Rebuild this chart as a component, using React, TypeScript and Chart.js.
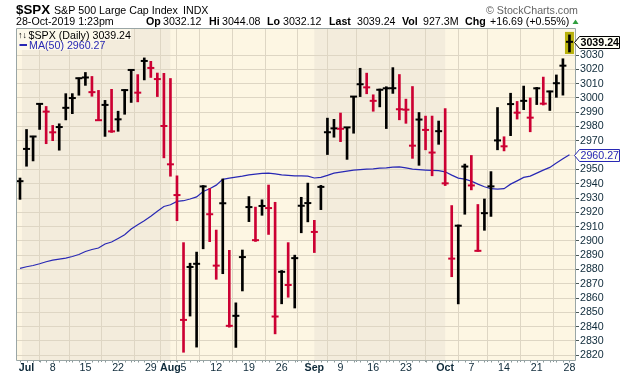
import React, { useEffect, useRef } from 'react';
import { Chart, registerables } from 'chart.js';

Chart.register(...registerables);

// ---------- data ----------
const dates = [
  '2019-06-28',
  '2019-07-01', '2019-07-02', '2019-07-03', '2019-07-05', '2019-07-08', '2019-07-09', '2019-07-10', '2019-07-11', '2019-07-12',
  '2019-07-15', '2019-07-16', '2019-07-17', '2019-07-18', '2019-07-19', '2019-07-22', '2019-07-23', '2019-07-24', '2019-07-25',
  '2019-07-26', '2019-07-29', '2019-07-30', '2019-07-31',
  '2019-08-01', '2019-08-02', '2019-08-05', '2019-08-06', '2019-08-07', '2019-08-08', '2019-08-09', '2019-08-12', '2019-08-13',
  '2019-08-14', '2019-08-15', '2019-08-16', '2019-08-19', '2019-08-20', '2019-08-21', '2019-08-22', '2019-08-23', '2019-08-26',
  '2019-08-27', '2019-08-28', '2019-08-29', '2019-08-30',
  '2019-09-03', '2019-09-04', '2019-09-05', '2019-09-06', '2019-09-09', '2019-09-10', '2019-09-11', '2019-09-12', '2019-09-13',
  '2019-09-16', '2019-09-17', '2019-09-18', '2019-09-19', '2019-09-20', '2019-09-23', '2019-09-24', '2019-09-25', '2019-09-26',
  '2019-09-27', '2019-09-30',
  '2019-10-01', '2019-10-02', '2019-10-03', '2019-10-04', '2019-10-07', '2019-10-08', '2019-10-09', '2019-10-10', '2019-10-11',
  '2019-10-14', '2019-10-15', '2019-10-16', '2019-10-17', '2019-10-18', '2019-10-21', '2019-10-22', '2019-10-23', '2019-10-24',
  '2019-10-25', '2019-10-28',
];

const highs = [
  2943.98, 2977.93, 2973.21, 2995.84, 2994.03, 2980.76, 2981.90, 3002.98, 3003.00, 3013.92,
  3017.80, 3015.02, 3005.26, 2998.28, 3006.02, 2990.71, 3005.90, 3019.59, 3016.31, 3027.98,
  3025.61, 3017.40, 3017.19, 3013.59, 2945.50, 2898.79, 2884.40, 2892.17, 2938.72, 2936.66,
  2907.58, 2943.31, 2893.42, 2856.67, 2893.63, 2931.00, 2923.63, 2928.73, 2939.08, 2927.01,
  2879.27, 2898.79, 2890.03, 2930.50, 2940.43, 2914.39, 2938.84, 2985.86, 2985.03, 2989.43,
  2979.39, 3000.93, 3020.74, 3017.33, 3002.19, 3006.21, 3007.83, 3021.19, 3016.37, 2999.15,
  3007.98, 2989.82, 2987.28, 2987.31, 2983.83, 2992.53, 2924.72, 2911.13, 2953.74, 2959.75,
  2925.47, 2929.32, 2948.46, 2993.28, 2972.84, 3003.28, 2997.54, 3008.29, 3000.00, 3007.33,
  3014.57, 3004.78, 3016.07, 3027.39, 3044.08,
];

const lows = [
  2929.05, 2952.22, 2955.92, 2977.96, 2967.97, 2970.09, 2963.44, 2984.62, 2989.00, 3001.87,
  3008.77, 3001.15, 2984.25, 2973.09, 2975.86, 2976.65, 2988.56, 2996.82, 2997.24, 3012.59,
  3014.30, 3000.94, 2958.08, 2945.23, 2914.11, 2822.12, 2847.42, 2825.71, 2894.47, 2899.44,
  2873.14, 2877.05, 2839.64, 2825.51, 2864.99, 2913.48, 2899.60, 2917.91, 2904.51, 2834.97,
  2856.00, 2860.59, 2853.05, 2905.67, 2913.32, 2891.85, 2921.86, 2960.40, 2972.51, 2969.39,
  2957.01, 2975.31, 3000.92, 3002.90, 2990.67, 2993.73, 2978.57, 3003.16, 2984.68, 2982.23,
  2957.73, 2952.86, 2963.71, 2945.53, 2967.54, 2938.70, 2874.93, 2855.94, 2918.64, 2935.68,
  2892.66, 2907.41, 2917.12, 2963.70, 2962.94, 2973.61, 2985.20, 2991.79, 2976.31, 2995.35,
  2995.04, 2991.21, 3000.42, 3001.94, 3032.12,
];

const closes = [
  2941.76, 2964.33, 2973.01, 2995.82, 2990.41, 2975.95, 2979.63, 2993.07, 2999.91, 3013.77,
  3014.30, 3004.04, 2984.42, 2995.11, 2976.61, 2985.03, 3005.47, 3019.56, 3003.67, 3025.86,
  3020.97, 3013.18, 2980.38, 2953.56, 2932.05, 2844.74, 2881.77, 2883.98, 2938.09, 2918.65,
  2882.70, 2926.32, 2840.60, 2847.60, 2888.68, 2923.65, 2900.51, 2924.43, 2922.95, 2847.11,
  2878.38, 2869.16, 2887.94, 2924.58, 2926.46, 2906.27, 2937.78, 2976.00, 2978.71, 2978.43,
  2979.39, 3000.93, 3009.57, 3007.39, 2997.96, 3005.70, 3006.73, 3006.79, 2992.07, 2991.78,
  2966.60, 2984.87, 2977.62, 2961.79, 2976.74, 2940.25, 2887.61, 2910.63, 2952.01, 2938.79,
  2893.06, 2919.40, 2938.13, 2970.27, 2966.15, 2995.68, 2989.69, 2997.95, 2986.20, 3006.72,
  2995.99, 3004.52, 3010.29, 3022.55, 3039.24,
];

const ma50 = [
  2880.8, 2881.9, 2882.8, 2884.0, 2885.4, 2886.6, 2887.3, 2888.0, 2889.1, 2890.5,
  2892.6, 2894.0, 2895.0, 2897.8, 2899.2, 2901.7, 2904.3, 2908.3, 2911.3, 2914.1,
  2917.3, 2920.8, 2924.1, 2925.3, 2927.6, 2928.1, 2929.3, 2930.8, 2934.6, 2936.5,
  2939.0, 2943.0, 2943.9, 2944.6, 2945.3, 2946.2, 2946.7, 2947.2, 2947.4, 2946.9,
  2946.2, 2945.8, 2945.5, 2945.5, 2945.3, 2944.0, 2944.4, 2945.8, 2947.4, 2948.1,
  2948.8, 2949.5, 2949.8, 2950.2, 2950.4, 2950.9, 2951.1, 2951.6, 2951.8, 2951.1,
  2950.2, 2949.8, 2949.5, 2949.3, 2949.1, 2948.3, 2946.0, 2943.9, 2943.2, 2941.8,
  2939.7, 2937.9, 2936.5, 2936.2, 2936.5, 2939.7, 2942.0, 2944.4, 2945.3, 2947.4,
  2949.5, 2951.4, 2954.4, 2957.4, 2960.27,
];

const xTickDates = [
  '2019-07-01', '2019-07-08', '2019-07-15', '2019-07-22', '2019-07-29',
  '2019-08-01', '2019-08-05', '2019-08-12', '2019-08-19', '2019-08-26',
  '2019-09-03', '2019-09-09', '2019-09-16', '2019-09-23',
  '2019-10-01', '2019-10-07', '2019-10-14', '2019-10-21', '2019-10-28',
];
const xTickLabels = ['Jul', '8', '15', '22', '29', 'Aug', '5', '12', '19', '26', 'Sep', '9', '16', '23', 'Oct', '7', '14', '21', '28'];
const yTickValues = [2820, 2830, 2840, 2850, 2860, 2870, 2880, 2890, 2900, 2910, 2920, 2930, 2940, 2950, 2960, 2970, 2980, 2990, 3000, 3010, 3020, 3030];

// ---------- styles ----------
const FONT = '"Liberation Sans", Arial, sans-serif';
const F8 = 10.67;
const UP = '#000000';
const DOWN = '#CC0033';
const MA_COLOR = '#2828B4';
const LIGHT = '#FDF6E3';
const DARK = '#F3ECDC';
const GRID = '#DED6C4';
const AXIS_TXT = '#0E2A3A';
const FRAME = '#9AA6A6';
const shadeBands: [number, number][] = [[0.3, 23], [45, 65]];

export default function App() {
  const ref = useRef<HTMLCanvasElement>(null);

  useEffect(() => {
    const canvas = ref.current!;
    const idx = dates.map((_, i) => i);
    const colors = closes.map((c, i) => (i === 0 || c >= closes[i - 1] ? UP : DOWN));
    const tickIdx = xTickDates.map((d) => dates.indexOf(d));
    const labelMap = new Map<number, string>();
    tickIdx.forEach((v, i) => labelMap.set(v, xTickLabels[i]));
    const last = closes.length - 1;

    const decor = {
      id: 'decor',
      beforeDraw(chart: any) {
        const { ctx, chartArea: a, scales } = chart;
        const x = scales.x;
        ctx.save();
        ctx.fillStyle = '#ffffff';
        ctx.fillRect(0, 0, chart.width, chart.height);
        ctx.fillStyle = LIGHT;
        ctx.fillRect(a.left, a.top, a.right - a.left, a.bottom - a.top);
        ctx.fillStyle = DARK;
        for (const [s, e] of shadeBands) {
          const x0 = x.getPixelForValue(s);
          const x1 = x.getPixelForValue(e);
          ctx.fillRect(x0, a.top, x1 - x0, a.bottom - a.top);
        }
        ctx.restore();
      },
      beforeDatasetsDraw(chart: any) {
        const { ctx, scales } = chart;
        const xp = scales.x.getPixelForValue(last);
        const yt = scales.y.getPixelForValue(highs[last]) - 3;
        const yb = scales.y.getPixelForValue(lows[last]) + 2;
        ctx.save();
        ctx.fillStyle = '#B8B10C';
        ctx.fillRect(xp - 4.5, yt, 9, yb - yt);
        ctx.restore();
      },
      afterDatasetsDraw(chart: any) {
        const { ctx, chartArea: a, scales } = chart;
        const x = scales.x;
        ctx.save();
        // frame
        ctx.strokeStyle = FRAME;
        ctx.lineWidth = 1;
        ctx.beginPath();
        ctx.moveTo(a.left + 0.5, a.top - 0.5);
        ctx.lineTo(a.right - 0.5, a.top - 0.5);
        ctx.moveTo(a.left + 0.5, a.top - 0.5);
        ctx.lineTo(a.left + 0.5, a.bottom + 0.5);
        ctx.lineTo(a.right - 0.5, a.bottom + 0.5);
        ctx.lineTo(a.right - 0.5, a.top - 0.5);
        ctx.stroke();
        // daily minor ticks
        ctx.strokeStyle = '#8A9898';
        ctx.beginPath();
        for (const i of idx) {
          const px = Math.round(x.getPixelForValue(i)) + 0.5;
          ctx.moveTo(px, a.bottom + 1);
          ctx.lineTo(px, a.bottom + 2.5);
        }
        ctx.stroke();
        // legend
        ctx.fillStyle = '#FCF8EA';
        ctx.fillRect(a.left + 1, a.top, 114, 11);
        ctx.fillRect(a.left + 1, a.top + 11, 84, 10);
        ctx.fillStyle = '#000';
        ctx.font = `bold 9px ${FONT}`;
        ctx.textBaseline = 'alphabetic';
        ctx.fillText('↑↓', 18, 38);
        ctx.font = `${F8}px ${FONT}`;
        ctx.fillText('$SPX (Daily) ' + closes[last].toFixed(2), 28.5, 38.5);
        ctx.strokeStyle = MA_COLOR;
        ctx.lineWidth = 2;
        ctx.beginPath();
        ctx.moveTo(19.5, 45);
        ctx.lineTo(27, 45);
        ctx.stroke();
        ctx.fillStyle = MA_COLOR;
        ctx.fillText('MA(50) ' + ma50[last].toFixed(2), 29, 48.5);
        ctx.restore();
      },
      afterDraw(chart: any) {
        const { ctx, scales } = chart;
        const y = scales.y;
        ctx.save();
        ctx.textBaseline = 'alphabetic';
        // header line 1
        ctx.fillStyle = '#000';
        ctx.font = `bold 13.33px ${FONT}`;
        ctx.fillText('$SPX', 16, 14);
        ctx.font = `${F8}px ${FONT}`;
        ctx.fillText('S&P 500 Large Cap Index', 54, 14);
        ctx.fillText('INDX', 183, 14);
        ctx.fillStyle = '#666';
        ctx.textAlign = 'right';
        ctx.fillText('© StockCharts.com', 578, 14);
        ctx.textAlign = 'left';
        // header line 2
        ctx.fillStyle = '#000';
        ctx.fillText('28-Oct-2019 1:23pm', 16, 25);
        const parts: [string, number, boolean][] = [
          ['Op', 146, true], ['3032.12', 163, false],
          ['Hi', 209, true], ['3044.08', 222, false],
          ['Lo', 267, true], ['3032.12', 283, false],
          ['Last', 329, true], ['3039.24', 357, false],
          ['Vol', 402, true], ['927.3M', 423, false],
          ['Chg', 465, true], ['+16.69 (+0.55%)', 490, false],
        ];
        for (const [t, px, b] of parts) {
          ctx.font = `${b ? 'bold ' : ''}${F8}px ${FONT}`;
          ctx.fillText(t, px, 25);
        }
        ctx.fillStyle = '#2E9E3E';
        ctx.beginPath();
        ctx.moveTo(572.5, 24);
        ctx.lineTo(578.5, 24);
        ctx.lineTo(575.5, 19.5);
        ctx.closePath();
        ctx.fill();

        // right-side value labels
        const pointer = (val: number, text: string, border: string, color: string, bold: boolean) => {
          const cy = Math.round(y.getPixelForValue(val)) + 0.5;
          const h = 6;
          ctx.beginPath();
          ctx.moveTo(574.5, cy);
          ctx.lineTo(579.5, cy - h);
          ctx.lineTo(619.5, cy - h);
          ctx.lineTo(619.5, cy + h);
          ctx.lineTo(579.5, cy + h);
          ctx.closePath();
          ctx.fillStyle = '#FFFFF4';
          ctx.fill();
          ctx.strokeStyle = border;
          ctx.lineWidth = 1;
          ctx.stroke();
          ctx.fillStyle = color;
          ctx.font = `${bold ? 'bold ' : ''}${F8}px ${FONT}`;
          ctx.textBaseline = 'middle';
          ctx.fillText(text, 580.5, cy + 0.5);
        };
        pointer(closes[last], closes[last].toFixed(2), '#000', '#000', true);
        pointer(ma50[last], ma50[last].toFixed(2), MA_COLOR, MA_COLOR, false);
        ctx.restore();
      },
    };

    const chart = new Chart(canvas, {
      type: 'bar',
      data: {
        datasets: [
          {
            type: 'scatter',
            data: idx.map((i) => ({ x: i, y: closes[i] })),
            pointStyle: 'line',
            pointRadius: 3.5,
            pointHoverRadius: 3.5,
            pointBorderWidth: 2,
            pointBorderColor: colors,
            pointBackgroundColor: colors,
            showLine: false,
            order: 1,
          } as any,
          {
            type: 'bar',
            data: idx.map((i) => ({ x: i, y: [lows[i], highs[i]] })),
            backgroundColor: colors,
            borderWidth: 0,
            barThickness: 2,
            grouped: false,
            order: 2,
          } as any,
          {
            type: 'line',
            data: idx.map((i) => ({ x: i, y: ma50[i] })),
            borderColor: MA_COLOR,
            borderWidth: 1.2,
            pointRadius: 0,
            fill: false,
            tension: 0,
            order: 3,
          } as any,
        ],
      },
      options: {
        responsive: false,
        animation: false,
        devicePixelRatio: 1,
        events: [],
        layout: { padding: { left: 16, top: 29, right: 0, bottom: 0 } },
        plugins: { legend: { display: false }, tooltip: { enabled: false } },
        scales: {
          x: {
            type: 'linear',
            min: -0.61,
            max: 85.0,
            offset: false,
            afterBuildTicks: (s: any) => {
              s.ticks = tickIdx.map((v) => ({ value: v }));
            },
            afterFit: (s: any) => {
              s.height = 16;
            },
            grid: { color: GRID, lineWidth: 1, drawTicks: true, tickLength: 2, tickColor: '#8A9898' },
            border: { display: false },
            ticks: {
              autoSkip: false,
              maxRotation: 0,
              minRotation: 0,
              padding: 0,
              color: AXIS_TXT,
              font: (c: any) => ({
                family: FONT,
                size: F8,
                weight: c.tick && isNaN(Number(labelMap.get(c.tick.value))) ? 'bold' : 'normal',
              }),
              callback: (v: any) => labelMap.get(v) ?? '',
            },
          },
          y: {
            type: 'linear',
            position: 'right',
            min: 2816.7,
            max: 3048.2,
            afterBuildTicks: (s: any) => {
              s.ticks = yTickValues.map((v) => ({ value: v }));
            },
            afterFit: (s: any) => {
              s.width = 44;
            },
            grid: { color: GRID, lineWidth: 1, tickLength: 3, tickColor: '#4A5858' },
            border: { display: false },
            ticks: {
              autoSkip: false,
              padding: 1,
              color: AXIS_TXT,
              font: { family: FONT, size: F8 },
              callback: (v: any) => String(v),
            },
          },
        },
      } as any,
      plugins: [decor],
    });

    return () => chart.destroy();
  }, []);

  return (
    <div style={{ position: 'absolute', left: 0, top: 0, width: 620, height: 376 }}>
      <canvas ref={ref} width={620} height={376} style={{ display: 'block', width: 620, height: 376 }} />
    </div>
  );
}
